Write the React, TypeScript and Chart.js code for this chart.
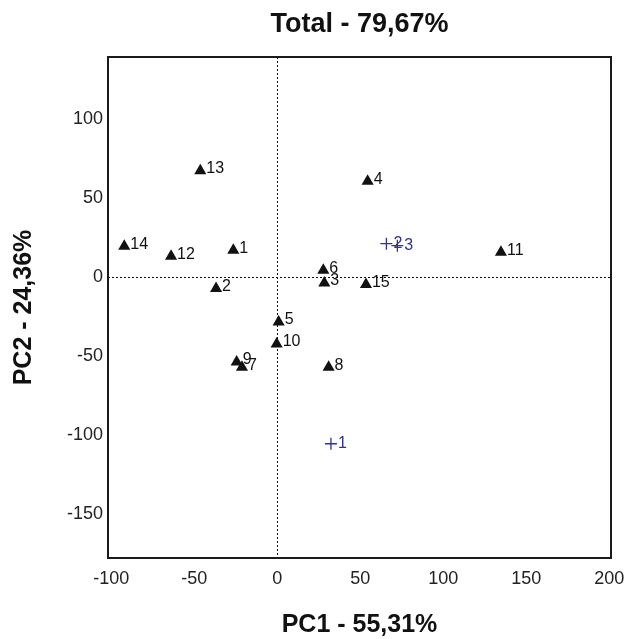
import React, { useEffect, useRef } from 'react';
import { Chart, registerables } from 'chart.js';

Chart.register(...registerables);

const FONT = "'Liberation Sans', Arial, Helvetica, sans-serif";

const titleText = 'Total - 79,67%';
const xTitle = 'PC1 - 55,31%';
const yTitle = 'PC2 - 24,36%';

const sampleLabels = ['1', '2', '3', '4', '5', '6', '7', '8', '9', '10', '11', '12', '13', '14', '15'];
const sampleX = [-26.5, -36.9, 28.3, 54.4, 0.8, 27.7, -21.3, 30.9, -24.5, -0.4, 134.7, -64.0, -46.4, -92.2, 53.4];
const sampleY = [16.7, -7.5, -4.0, 60.4, -28.6, 4.1, -57.3, -57.3, -54.0, -42.6, 15.5, 12.9, 67.0, 19.3, -5.0];

const varLabels = ['1', '2', '3'];
const varX = [32.3, 65.7, 72.3];
const varY = [-105.7, 20.9, 19.6];

const xTicks = [-100, -50, 0, 50, 100, 150, 200];
const yTicks = [-150, -100, -50, 0, 50, 100];

const framePlugin = {
  id: 'frameAndLabels',
  beforeDatasetsDraw(chart: any) {
    const { ctx, chartArea: a, scales } = chart;
    const x0 = Math.round(scales.x.getPixelForValue(0)) + 0.5;
    const y0 = Math.round(scales.y.getPixelForValue(0)) + 0.5;
    ctx.save();
    ctx.strokeStyle = '#111';
    ctx.lineWidth = 1;
    ctx.setLineDash([2, 2]);
    ctx.beginPath();
    ctx.moveTo(x0, a.top);
    ctx.lineTo(x0, a.bottom);
    ctx.moveTo(a.left, y0);
    ctx.lineTo(a.right, y0);
    ctx.stroke();
    ctx.setLineDash([]);
    ctx.lineWidth = 2;
    ctx.strokeStyle = '#1a1a1a';
    ctx.strokeRect(a.left, a.top, a.right - a.left, a.bottom - a.top);
    ctx.restore();
  },
  afterDatasetsDraw(chart: any) {
    const { ctx } = chart;
    ctx.save();
    chart.data.datasets.forEach((ds: any, di: number) => {
      const meta = chart.getDatasetMeta(di);
      const labels: string[] = ds.pointLabels || [];
      ctx.fillStyle = ds.labelColor;
      ctx.font = `${ds.labelSize}px ${FONT}`;
      ctx.textAlign = 'left';
      ctx.textBaseline = 'middle';
      meta.data.forEach((el: any, i: number) => {
        ctx.fillText(labels[i], el.x + ds.labelDx, el.y + ds.labelDy);
      });
    });
    ctx.restore();
  },
};

export default function App() {
  const ref = useRef<HTMLCanvasElement | null>(null);

  useEffect(() => {
    if (!ref.current) return;
    Chart.defaults.font.family = FONT;
    const chart = new Chart(ref.current, {
      type: 'scatter',
      data: {
        datasets: [
          {
            label: 'samples',
            data: sampleX.map((x, i) => ({ x, y: sampleY[i] })),
            pointStyle: 'triangle',
            pointRadius: 7,
            backgroundColor: '#111',
            borderColor: '#111',
            borderWidth: 0,
            pointLabels: sampleLabels,
            labelColor: '#111',
            labelSize: 16,
            labelDx: 6,
            labelDy: -2,
          } as any,
          {
            label: 'variables',
            data: varX.map((x, i) => ({ x, y: varY[i] })),
            pointStyle: 'cross',
            pointRadius: 6,
            backgroundColor: '#33338a',
            borderColor: '#33338a',
            borderWidth: 1.3,
            pointLabels: varLabels,
            labelColor: '#33338a',
            labelSize: 16,
            labelDx: 7,
            labelDy: 0,
          } as any,
        ],
      },
      options: {
        animation: false,
        responsive: true,
        maintainAspectRatio: false,
        layout: { padding: { left: 0, right: 14, top: 0, bottom: 0 } },
        plugins: {
          legend: { display: false },
          tooltip: { enabled: false },
          title: {
            display: true,
            text: titleText,
            fullSize: false,
            color: '#111',
            font: { size: 27, weight: 'bold', family: FONT },
            padding: { top: 8, bottom: 16.6 },
          },
        },
        scales: {
          x: {
            type: 'linear',
            min: -102,
            max: 201,
            afterBuildTicks: (s: any) => {
              s.ticks = xTicks.map((v) => ({ value: v }));
            },
            afterFit: (s: any) => {
              s.height = 81;
              s.paddingLeft = 0;
              s.paddingRight = 0;
            },
            grid: { display: false, drawTicks: false },
            border: { display: false },
            ticks: { color: '#222', padding: 10, font: { size: 18, family: FONT } },
            title: {
              display: true,
              text: xTitle,
              color: '#111',
              font: { size: 25, weight: 'bold', family: FONT, lineHeight: 1.1 },
              padding: { top: 0, bottom: 0 },
            },
          },
          y: {
            type: 'linear',
            min: -178,
            max: 139,
            afterBuildTicks: (s: any) => {
              s.ticks = yTicks.map((v) => ({ value: v }));
            },
            afterFit: (s: any) => {
              s.width = 108;
              s.paddingTop = 0;
              s.paddingBottom = 0;
            },
            grid: { display: false, drawTicks: false },
            border: { display: false },
            ticks: { color: '#222', padding: 5, font: { size: 18, family: FONT } },
            title: {
              display: true,
              text: yTitle,
              color: '#111',
              font: { size: 25, weight: 'bold', family: FONT, lineHeight: 1.2 },
              padding: { top: 9, bottom: 0 },
            },
          },
        },
      } as any,
      plugins: [framePlugin],
    });
    return () => chart.destroy();
  }, []);

  return (
    <div style={{ position: 'fixed', left: 0, top: 0, width: 625, height: 639, background: '#fff' }}>
      <canvas ref={ref} />
    </div>
  );
}
